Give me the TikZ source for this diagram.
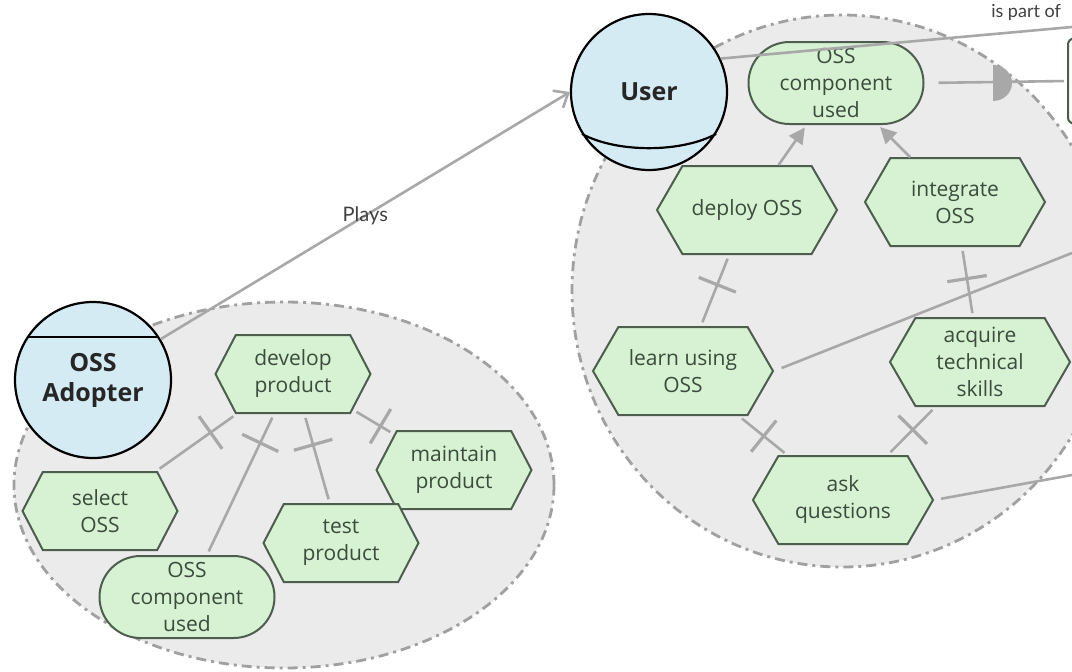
\documentclass[tikz,border=0pt]{standalone}
\usepackage{fontspec}
\setmainfont{Open Sans}
\newfontfamily\playsfont{Lato}
\usepackage{tikz}
\usetikzlibrary{
  calc,arrows.meta,decorations.markings,shapes.misc,shapes.symbols
}
\definecolor{actorfill}{HTML}{D5EBF4}
\definecolor{taskfill}{HTML}{D6F2D3}
\definecolor{taskdraw}{HTML}{4E5E4E}
\definecolor{tasktext}{HTML}{3C4B3C}
\definecolor{boundfill}{HTML}{EBEBEC}
\definecolor{bounddraw}{HTML}{A0A0A0}
\definecolor{linkgray}{HTML}{A8A8A8}
\tikzset{
  boundary/.style={draw=bounddraw,fill=boundfill,line width=1.4pt,
    dash pattern=on 5pt off 2.5pt on 1.5pt off 2.5pt},
  actor/.style={circle,draw=black,fill=actorfill,line width=1.1pt,
    minimum size=78pt,inner sep=0pt,align=center,text=black!85,
    font=\fontsize{12.5}{15}\selectfont\bfseries},
  task/.style={signal,signal to=east and west,signal pointer angle=125,
    draw=taskdraw,fill=taskfill,line width=1pt,inner sep=1pt,
    minimum width=77.5pt,minimum height=39pt,align=center,text=tasktext,
    font=\fontsize{10.5}{13.5}\selectfont},
  bigtask/.style={task,minimum width=90pt,minimum height=44pt,
    signal pointer angle=120},
  resource/.style={rounded rectangle,draw=taskdraw,fill=taskfill,
    line width=1pt,inner sep=1pt,minimum width=89.5pt,minimum height=41pt,
    align=center,text=tasktext,font=\fontsize{10.5}{13.5}\selectfont},
  link/.style={draw=linkgray,line width=1.3pt},
  declink/.style={link,shorten <=2pt,shorten >=2pt,postaction={decorate},
    decoration={markings,mark=at position 16pt with
      {\draw[linkgray,line width=1.6pt] (0pt,-12pt) -- (0pt,12pt);}}},
  meansend/.style={link,shorten >=1.5pt,-{Triangle[length=8pt,width=8pt]}},
  lbl/.style={font=\playsfont\fontsize{10}{12}\selectfont,text=black!75}
}

\begin{document}
\begin{tikzpicture}[x=0.5pt,y=-0.5pt]
  \useasboundingbox (0,0) rectangle (1072,671);
  \clip (0,0) rectangle (1072,671);

  % boundaries
  \draw[boundary] (284,485) ellipse [x radius=135pt, y radius=91.5pt];
  \draw[boundary] (842,291) ellipse [x radius=135pt, y radius=138pt];

  % actors
  \node[actor] (adopter) at (93,380) {OSS\\Adopter};
  \draw[line width=1.1pt] (adopter.147) -- (adopter.33);
  \node[actor] (user) at (649,92) {User};
  \draw[line width=1.1pt] (user.212) .. controls +(35,19) and +(-35,19) .. (user.-32);

  % inside OSS Adopter
  \node[task] (develop) at (293,374) {develop\\product};
  \node[task] (select) at (100,511) {select\\OSS};
  \node[task] (maintain) at (454,470) {maintain\\product};
  \node[task] (test) at (341,543) {test\\product};
  \node[resource] (usedA) at (187,597) {OSS\\component\\used};

  \foreach \sub in {select,usedA,test,maintain}
    \draw[declink] (develop) -- (\sub);

  % inside User
  \node[resource] (usedB) at (836,83) {OSS\\component\\used};
  \node[bigtask] (deploy) at (747,210) {deploy OSS};
  \node[bigtask] (integrate) at (955,202) {integrate\\OSS};
  \node[bigtask] (learn) at (683,371) {learn using\\OSS};
  \node[bigtask] (acquire) at (980,362) {acquire\\technical\\skills};
  \node[bigtask] (ask) at (843,500) {ask\\questions};

  \draw[meansend] (deploy) -- (usedB);
  \draw[meansend] (integrate) -- (usedB);
  \draw[declink] (deploy) -- (learn);
  \draw[declink] (integrate) -- (acquire);
  \draw[declink] (learn) -- (ask);
  \draw[declink] (acquire) -- (ask);

  % Plays
  \draw[link,-{Straight Barb[length=6pt,width=10pt]}] (adopter) -- (user.west)
    node[pos=0.5,lbl] {Plays};

  % links leaving the picture
  \node[draw=taskdraw,fill=white,rounded corners=3pt,line width=1pt,
    minimum width=50pt,minimum height=42.5pt] (partbox) at (1118,81) {};
  \coordinate (dep) at (993,83);
  \coordinate (topout) at (1072,27);
  \coordinate (learnout) at (1072,253);
  \coordinate (askout) at (1072,475);
  \draw[link,shorten <=7pt,shorten >=1.5pt] (usedB.east) -- (partbox.west);
  \fill[linkgray] ($(dep)+(0,-18)$) arc[start angle=90,end angle=-90,
    x radius=9.5pt,y radius=9pt] -- cycle;
  \draw[link] (user.25) -- (topout);
  \node[lbl,anchor=base east,font=\playsfont\fontsize{9}{10}\selectfont]
    (partof) at (1068,17) {is part of};
  \draw[link,shorten <=4pt] (learn.east) -- (learnout);
  \draw[link,shorten <=3.5pt] (ask.east) -- (askout);
\end{tikzpicture}
\end{document}
